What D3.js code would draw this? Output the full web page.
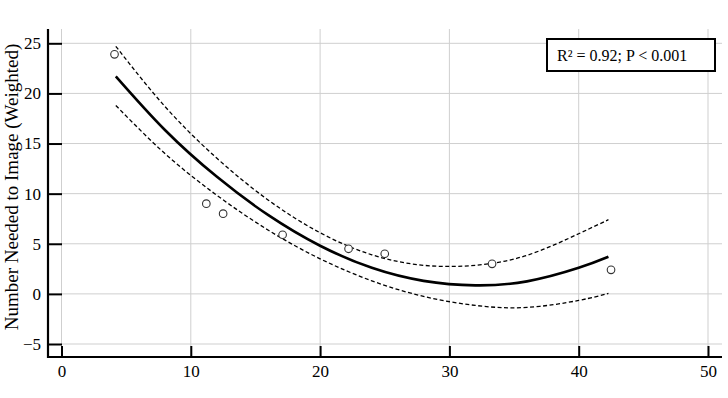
<!DOCTYPE html>
<html>
<head>
<meta charset="utf-8">
<script src="https://cdn.jsdelivr.net/npm/d3@7"></script>
<style>
  html, body { margin: 0; padding: 0; background: #fff; }
  svg text { font-family: 'Liberation Serif', 'Times New Roman', serif; fill: #000; }
</style>
</head>
<body>
<div id="chart"></div>
<script>
// observed points
const points = [
  [4.1, 23.9], [11.2, 9.0], [12.5, 8.0], [17.1, 5.9],
  [22.2, 4.5], [25.0, 4.0], [33.3, 3.0], [42.5, 2.4],
]

// fitted curve and confidence band
const fit = [
  [4.2, 21.7], [8, 16.35], [12, 11.7], [16, 7.85], [20, 4.8],
  [24, 2.6], [28, 1.3], [32, 0.85], [36, 1.25], [40, 2.6], [42.3, 3.7],
]
const upper = [
  [4.2, 24.7], [8, 18.7], [12, 13.55], [16, 9.35], [20, 6.1],
  [24, 3.9], [28, 2.85], [32, 2.85], [36, 3.85], [40, 6.0], [42.3, 7.4],
]
const lower = [
  [4.2, 18.8], [8, 14.0], [12, 9.85], [16, 6.35], [20, 3.5],
  [24, 1.3], [28, -0.25], [32, -1.15], [36, -1.35], [40, -0.65], [42.3, 0.05],
]

const xTicks = [0, 10, 20, 30, 40, 50]
const yTicks = [-5, 0, 5, 10, 15, 20, 25]
const yLabel = 'Number Needed to Image (Weighted)'
const statText = 'R² = 0.92; P < 0.001'

const width = 728
const height = 398
const frame = { left: 48, bottom: 357, top: 29, right: 722 }

const svg = d3.select('#chart')
  .append('svg')
  .attr('width', width)
  .attr('height', height)

const xScale = d3.scaleLinear().domain([0, 50]).range([61.5, 708])
const yScale = d3.scaleLinear().domain([-5, 25]).range([344, 43.3])

// -- grid
const grid = svg.append('g').attr('stroke', '#cfcfcf').attr('stroke-width', 1)
xTicks.forEach((t) => {
  grid.append('line')
    .attr('x1', xScale(t)).attr('x2', xScale(t))
    .attr('y1', frame.top).attr('y2', frame.bottom)
})
yTicks.forEach((t) => {
  grid.append('line')
    .attr('x1', xScale(0)).attr('x2', frame.right)
    .attr('y1', yScale(t)).attr('y2', yScale(t))
})

// -- curves
const line = d3.line()
  .x(([x]) => xScale(x))
  .y(([, y]) => yScale(y))
  .curve(d3.curveNatural)

svg.append('path')
  .datum(upper)
  .attr('fill', 'none')
  .attr('stroke', '#000')
  .attr('stroke-width', 1.3)
  .attr('stroke-dasharray', '4,2.5')
  .attr('d', line)

svg.append('path')
  .datum(lower)
  .attr('fill', 'none')
  .attr('stroke', '#000')
  .attr('stroke-width', 1.3)
  .attr('stroke-dasharray', '4,2.5')
  .attr('d', line)

svg.append('path')
  .datum(fit)
  .attr('fill', 'none')
  .attr('stroke', '#000')
  .attr('stroke-width', 2.6)
  .attr('d', line)

// -- points
svg.append('g')
  .selectAll('circle')
  .data(points)
  .join('circle')
  .attr('cx', ([x]) => xScale(x))
  .attr('cy', ([, y]) => yScale(y))
  .attr('r', 3.8)
  .attr('fill', '#fff')
  .attr('stroke', '#333')
  .attr('stroke-width', 1.1)

// -- axes
const xAxis = svg.append('g')
  .attr('transform', `translate(0,${frame.bottom})`)
  .call(d3.axisBottom(xScale).tickValues(xTicks).tickSize(-11).tickPadding(8))
xAxis.select('.domain').remove()

const yAxis = svg.append('g')
  .attr('transform', `translate(${frame.left},0)`)
  .call(d3.axisLeft(yScale).tickValues(yTicks).tickSize(-14).tickPadding(7))
yAxis.select('.domain').remove()

svg.selectAll('.tick line').attr('stroke', '#000').attr('stroke-width', 2)
svg.selectAll('.tick text').attr('font-size', 17).attr('font-family', 'Liberation Serif')

svg.append('line')
  .attr('x1', frame.left).attr('x2', frame.left)
  .attr('y1', frame.top).attr('y2', frame.bottom + 1)
  .attr('stroke', '#000').attr('stroke-width', 2.2)
svg.append('line')
  .attr('x1', frame.left - 1).attr('x2', frame.right)
  .attr('y1', frame.bottom).attr('y2', frame.bottom)
  .attr('stroke', '#000').attr('stroke-width', 2.2)

svg.append('text')
  .attr('transform', 'translate(18,187) rotate(-90)')
  .attr('text-anchor', 'middle')
  .attr('font-size', 19)
  .text(yLabel)

// -- stats box
svg.append('rect')
  .attr('x', 547).attr('y', 39)
  .attr('width', 168).attr('height', 32)
  .attr('fill', '#fff')
  .attr('stroke', '#000')
  .attr('stroke-width', 2)

svg.append('text')
  .attr('x', 557).attr('y', 61)
  .attr('font-size', 16)
  .text(statText)
</script>
</body>
</html>
